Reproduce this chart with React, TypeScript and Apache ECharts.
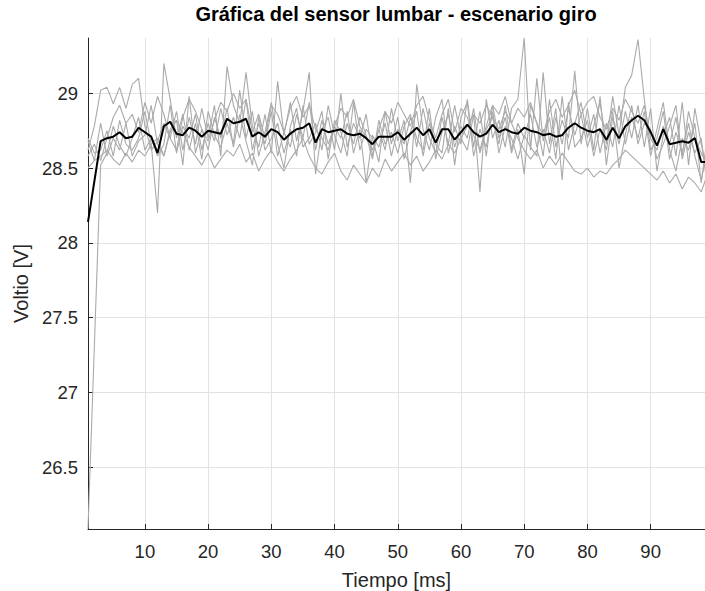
import React, { useEffect, useRef } from "react";
import * as echarts from "echarts";

// Lumbar sensor voltage, "giro" scenario: six recordings plus their mean, one sample per ms.
const sampleStart = 1;

const rec1 = [
  26.09, 27.30, 28.52, 28.60, 28.78, 28.65, 28.58, 28.70, 28.84, 28.62,
  28.70, 28.58, 28.66, 28.92, 28.60, 28.78, 28.70, 28.86, 28.62, 28.80,
  28.68, 28.90, 28.72, 28.84, 28.70, 28.96, 28.62, 28.80, 28.66, 28.88,
  28.58, 28.74, 28.64, 28.86, 28.70, 28.94, 28.62, 28.82, 28.66, 28.78,
  28.70, 28.88, 28.60, 28.76, 28.40, 28.72, 28.64, 28.80, 28.58, 28.76,
  28.66, 28.84, 28.70, 28.62, 28.90, 28.56, 28.74, 28.86, 28.64, 28.78,
  28.70, 28.90, 28.60, 28.76, 28.84, 28.66, 28.92, 28.62, 28.80, 28.70,
  28.86, 28.64, 28.76, 28.60, 28.84, 28.66, 28.90, 28.72, 28.86, 28.64,
  28.78, 28.94, 28.66, 28.98, 28.72, 29.04, 29.12, 29.36, 28.96, 28.62,
  28.70, 28.88, 28.56, 28.74, 28.60, 28.80, 28.58, 28.42, 28.62,
];
const rec2 = [
  28.62, 28.78, 29.02, 29.04, 28.93, 29.04, 28.90, 29.06, 29.10, 28.78,
  28.62, 28.68, 28.80, 28.70, 28.88, 28.62, 28.84, 28.66, 28.90, 28.70,
  28.92, 28.58, 29.18, 28.92, 28.80, 29.14, 28.78, 28.64, 28.86, 28.60,
  29.08, 28.72, 28.94, 28.68, 28.88, 29.14, 28.46, 28.76, 28.84, 28.62,
  29.00, 28.64, 28.80, 28.70, 28.86, 28.58, 28.76, 28.62, 28.90, 28.68,
  28.82, 28.40, 29.06, 28.76, 28.62, 28.84, 28.96, 28.60, 28.78, 28.66,
  28.96, 28.64, 28.88, 28.58, 28.92, 28.70, 28.84, 28.60, 28.76, 28.46,
  28.92, 28.80, 28.58, 28.96, 28.64, 28.82, 28.70, 29.15, 28.66, 28.90,
  28.62, 28.98, 28.52, 28.84, 28.66, 28.88, 28.70, 28.92, 28.64, 28.90,
  28.48, 28.72, 28.84, 28.58, 28.94, 28.52, 28.90, 28.66, 28.48,
];
const rec3 = [
  28.70, 28.60, 28.62, 28.75, 28.58, 28.82, 28.66, 28.62, 28.70, 28.88,
  28.66, 28.20, 29.20, 28.96, 28.70, 28.86, 28.62, 28.80, 28.56, 28.88,
  28.72, 28.64, 28.80, 28.66, 29.02, 28.70, 28.88, 28.58, 28.74, 28.94,
  28.66, 28.50, 28.78, 28.90, 28.64, 28.70, 28.80, 28.62, 28.92, 28.72,
  28.60, 28.80, 28.66, 28.84, 28.72, 28.56, 28.82, 28.66, 28.74, 28.60,
  28.78, 28.86, 28.64, 28.90, 28.70, 28.60, 28.84, 28.66, 28.92, 28.70,
  28.62, 28.86, 28.34, 28.96, 28.70, 28.82, 28.64, 28.90, 28.96, 29.37,
  28.62, 29.10, 28.68, 28.84, 28.56, 28.98, 28.62, 28.80, 28.94, 28.70,
  28.86, 28.60, 28.80, 28.64, 28.92, 28.66, 28.84, 28.70, 28.88, 28.58,
  28.76, 28.94, 28.62, 28.48, 28.70, 28.62, 28.80, 28.40, 28.72,
];
const rec4 = [
  28.50, 28.55, 28.80, 28.58, 28.70, 28.62, 28.80, 28.58, 28.68, 28.72,
  28.92, 28.66, 28.58, 28.74, 28.82, 28.52, 28.98, 28.60, 28.76, 28.62,
  28.84, 28.70, 28.90, 28.64, 28.86, 28.68, 28.52, 28.84, 28.62, 28.70,
  28.80, 28.60, 28.76, 28.58, 28.92, 28.66, 28.74, 28.88, 28.56, 28.82,
  28.74, 28.58, 28.94, 28.62, 28.76, 28.70, 28.54, 28.88, 28.66, 28.84,
  28.56, 28.74, 28.88, 28.58, 28.80, 28.66, 28.60, 28.90, 28.52, 28.84,
  28.94, 28.58, 28.76, 28.64, 28.88, 28.60, 28.78, 28.70, 28.56, 28.72,
  28.64, 28.58, 29.14, 28.66, 28.90, 28.42, 28.94, 28.64, 28.70, 28.82,
  28.58, 28.76, 28.62, 28.88, 28.50, 28.72, 28.92, 28.66, 28.80, 28.76,
  28.56, 28.66, 28.78, 28.92, 28.56, 28.74, 28.60, 28.70, 28.36,
];
const rec5 = [
  28.58, 28.66, 28.55, 28.70, 28.84, 28.92, 28.80, 28.86, 28.74, 28.94,
  28.80, 28.98, 28.86, 28.70, 28.62, 28.84, 28.96, 28.88, 28.76, 28.68,
  28.82, 28.94, 28.88, 29.00, 28.90, 28.96, 28.74, 28.86, 28.70, 28.92,
  28.86, 28.74, 28.90, 28.98, 28.84, 28.92, 28.76, 28.70, 28.62, 28.78,
  28.90, 28.84, 28.96, 28.78, 28.70, 28.62, 28.76, 28.88, 28.80, 28.94,
  28.86, 28.78, 28.92, 28.98, 28.82, 28.70, 28.86, 28.96, 28.74, 28.90,
  28.84, 28.72, 28.62, 28.78, 28.92, 28.86, 28.98, 28.80, 28.90, 28.84,
  28.94, 28.80, 28.72, 28.88, 28.96, 28.84, 28.92, 29.02, 28.86, 28.94,
  28.98, 28.84, 28.76, 28.90, 28.82, 28.96, 28.88, 28.80, 28.92, 28.70,
  28.62, 28.78, 28.66, 28.84, 28.58, 28.88, 28.70, 28.60, 28.52,
];
const rec6 = [
  28.68, 28.55, 28.58, 28.62, 28.56, 28.52, 28.60, 28.54, 28.62, 28.58,
  28.66, 28.70, 28.58, 28.76, 28.82, 28.74, 28.64, 28.58, 28.52, 28.60,
  28.50, 28.56, 28.62, 28.58, 28.66, 28.54, 28.60, 28.48, 28.56, 28.62,
  28.54, 28.48, 28.56, 28.62, 28.70, 28.58, 28.50, 28.46, 28.54, 28.60,
  28.48, 28.42, 28.52, 28.46, 28.40, 28.50, 28.44, 28.56, 28.48, 28.54,
  28.60, 28.52, 28.58, 28.48, 28.54, 28.62, 28.56, 28.66, 28.60, 28.70,
  28.78, 28.86, 28.80, 28.92, 28.84, 28.76, 28.88, 28.80, 28.70, 28.62,
  28.56, 28.62, 28.50, 28.58, 28.52, 28.60, 28.54, 28.48, 28.46, 28.50,
  28.44, 28.48, 28.46, 28.52, 28.56, 28.62, 28.58, 28.54, 28.50, 28.46,
  28.42, 28.48, 28.40, 28.46, 28.36, 28.44, 28.40, 28.34, 28.46,
];
const meanCurve = [
  28.14, 28.41, 28.68, 28.70, 28.71, 28.74, 28.70, 28.71, 28.77, 28.74,
  28.71, 28.60, 28.78, 28.81, 28.73, 28.72, 28.77, 28.75, 28.71, 28.75,
  28.74, 28.73, 28.83, 28.80, 28.81, 28.83, 28.71, 28.74, 28.71, 28.76,
  28.74, 28.69, 28.73, 28.76, 28.77, 28.80, 28.67, 28.76, 28.74, 28.75,
  28.76, 28.73, 28.72, 28.73, 28.70, 28.66, 28.71, 28.71, 28.71, 28.74,
  28.69, 28.73, 28.77, 28.72, 28.76, 28.67, 28.76, 28.76, 28.69, 28.74,
  28.79, 28.74, 28.71, 28.73, 28.79, 28.74, 28.76, 28.74, 28.73, 28.77,
  28.75, 28.74, 28.72, 28.73, 28.71, 28.72, 28.77, 28.80, 28.77, 28.75,
  28.74, 28.76, 28.69, 28.77, 28.70, 28.78, 28.82, 28.85, 28.82, 28.74,
  28.65, 28.76, 28.66, 28.67, 28.68, 28.67, 28.70, 28.54, 28.54,
];

const recordings = [rec1, rec2, rec3, rec4, rec5, rec6];

const xTicks = [10, 20, 30, 40, 50, 60, 70, 80, 90];
const yTicks = [26.5, 27, 27.5, 28, 28.5, 29];

const titleText = "Gráfica del sensor lumbar - escenario giro";
const xName = "Tiempo [ms]";
const yName = "Voltio [V]";

const FONT = "Liberation Sans, Arial, Helvetica, sans-serif";
const INK = "#262626";

const toPoints = (values: number[]) =>
  values.map((v, i) => [sampleStart + i, v]);

export default function App() {
  const ref = useRef<HTMLDivElement>(null);

  useEffect(() => {
    if (!ref.current) return;
    const chart = echarts.init(ref.current, undefined, { renderer: "svg" });

    const graySeries = recordings.map((rec, k) => ({
      type: "line",
      name: `rec${k + 1}`,
      data: toPoints(rec),
      showSymbol: false,
      symbol: "none",
      clip: true,
      lineStyle: { color: "#aaaaaa", width: 1.1 },
      z: 2,
    }));

    chart.setOption({
      animation: false,
      backgroundColor: "#ffffff",
      graphic: [
        {
          type: "text",
          x: 396,
          y: 4,
          style: {
            text: titleText,
            font: `bold 20px ${FONT}`,
            fill: "#000000",
            align: "center",
            verticalAlign: "top",
          },
        },
      ],
      grid: {
        left: 88,
        top: 38,
        right: 0,
        bottom: 62,
        containLabel: false,
        outerBoundsMode: "none",
      },
      xAxis: {
        type: "value",
        min: 1,
        max: 98.6,
        name: xName,
        nameLocation: "middle",
        nameGap: 41,
        nameTextStyle: { fontFamily: FONT, fontSize: 20, color: INK },
        axisLine: { show: true, onZero: false, lineStyle: { color: INK, width: 1 } },
        axisTick: {
          show: true,
          inside: true,
          length: 5,
          customValues: xTicks,
          lineStyle: { color: INK },
        },
        axisLabel: {
          customValues: xTicks,
          fontFamily: FONT,
          fontSize: 18.5,
          color: INK,
          margin: 13,
        },
        splitLine: { show: true, lineStyle: { color: "#e3e3e3", width: 1 } },
      },
      yAxis: {
        type: "value",
        min: 26.086,
        max: 29.37,
        name: yName,
        nameLocation: "middle",
        nameRotate: 90,
        nameGap: 56,
        nameTextStyle: { fontFamily: FONT, fontSize: 20, color: INK },
        axisLine: { show: true, onZero: false, lineStyle: { color: INK, width: 1 } },
        axisTick: {
          show: true,
          inside: true,
          length: 5,
          customValues: yTicks,
          lineStyle: { color: INK },
        },
        axisLabel: {
          customValues: yTicks,
          fontFamily: FONT,
          fontSize: 18.5,
          color: INK,
          margin: 10,
        },
        splitLine: { show: true, lineStyle: { color: "#e3e3e3", width: 1 } },
      },
      series: [
        ...graySeries,
        {
          type: "line",
          name: "media",
          data: toPoints(meanCurve),
          showSymbol: false,
          symbol: "none",
          clip: true,
          lineStyle: { color: "#000000", width: 2 },
          z: 3,
        },
      ],
    });

    return () => chart.dispose();
  }, []);

  return (
    <div
      ref={ref}
      style={{ position: "fixed", left: 0, top: 0, width: 705, height: 591 }}
    />
  );
}
